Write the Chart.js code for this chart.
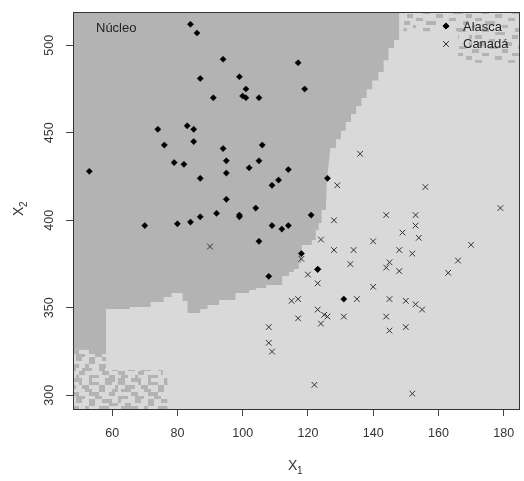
<!DOCTYPE html>
<html>
<head>
<meta charset="utf-8">
<script src="https://cdn.jsdelivr.net/npm/chart.js@4.4.1/dist/chart.umd.min.js"></script>
<style>
  html, body { margin: 0; padding: 0; background: #ffffff; }
  #grafica { display: block; }
</style>
</head>
<body>
<canvas id="grafica" width="524" height="481"></canvas>
<script>
// anillos de crecimiento: X1 = agua dulce, X2 = marino
const alascaX1 = [84, 86, 94, 87, 99, 101, 100, 101, 105, 91, 117, 119, 74, 83, 85, 76, 85, 106, 94, 95,
    79, 82, 105, 102, 95, 53, 87, 95, 114, 111, 109, 126, 104, 92, 99, 99, 87, 84, 80, 70,
    109, 112, 114, 121, 105, 118, 108, 123, 131, 123];
const alascaX2 = [512, 507, 492, 481, 482, 475, 471, 470, 470, 470, 490, 475, 452, 454, 452, 443, 445, 443, 441, 434,
    433, 432, 434, 430, 427, 428, 424, 412, 429, 423, 420, 424, 407, 404, 403, 402, 402, 399, 398, 397,
    397, 395, 397, 403, 388, 381, 368, 372, 355, 372];

const canadaX1 = [128, 144, 153, 153, 149, 154, 179, 140, 124, 128, 134, 148, 152, 170, 166, 163, 118, 133, 145, 144,
    148, 120, 123, 140, 115, 117, 135, 145, 150, 153, 155, 123, 125, 126, 124, 117, 131, 144, 150, 145,
    108, 108, 109, 122, 152, 90, 136, 129, 156];
const canadaX2 = [400, 403, 403, 397, 393, 390, 407, 388, 389, 383, 383, 383, 381, 386, 377, 370, 378, 375, 376, 373,
    371, 369, 364, 362, 354, 355, 355, 355, 354, 352, 349, 349, 346, 345, 341, 344, 345, 345, 339, 337,
    339, 330, 325, 306, 301, 385, 438, 420, 419];

// frontera de la región núcleo (Alasca), de izquierda a derecha
const nucleoX1 = [48, 58.1, 58.1, 65.4, 65.4, 71.8, 71.8, 75.8, 75.8, 78.2, 78.2, 81.6, 81.6, 83.1, 83.1, 87, 87, 89.2, 89.2, 92.8, 92.8, 97.8, 97.8,
    102, 102, 104.1, 104.1, 107.2, 107.2, 112.1, 112.1, 114.2, 114.2, 115.7, 115.7, 117.2, 117.2, 118.1, 118.1, 121.2, 121.2, 122.4, 122.4, 123.3, 123.3, 124.2, 124.2, 125.5,
    125.8, 126.9, 128.6, 128.6, 130.1, 130.1, 131.6, 131.6, 133.2, 133.2, 134.8, 134.8, 136.4, 136.4, 138, 138, 139.7, 139.7, 141.6, 141.6, 143.2, 143.2, 144.7, 144.7, 146.4, 146.4, 148, 148, 148.6];
const nucleoX2 = [323.6, 323.6, 349.3, 349.3, 350.5, 350.5, 353.3, 353.3, 356.2, 356.2, 358.5, 358.5, 353.9, 353.9, 347, 347, 349.3, 349.3, 351.6, 351.6, 354.5, 354.5, 358.5,
    358.5, 360.2, 360.2, 361.3, 361.3, 363, 363, 368.2, 368.2, 370.5, 370.5, 372.2, 372.2, 375.6, 375.6, 385.9, 385.9, 388.7, 388.7, 394.4, 394.4, 398.5, 398.5, 405.9, 405.9,
    423, 441.3, 441.3, 446.3, 446.3, 451.2, 451.2, 456.2, 456.2, 460.8, 460.8, 465.3, 465.3, 469.9, 469.9, 474.8, 474.8, 479.8, 479.8, 484.7, 484.7, 491.5, 491.5, 498.4, 498.4, 503, 503, 519];

// zonas de empate (abajo a la izquierda y arriba a la derecha)
const empateSoX1 = [48, 54.1, 54.1, 58.1, 58.1, 75.5, 75.5, 77, 77];
const empateSoX2 = [326, 326, 323.6, 323.6, 314.5, 314.5, 311, 311, 292.2];
const empateNeX1 = [149.2, 149.2, 166, 166, 184.7];
const empateNeX2 = [519, 508, 508, 490, 490];

const xTicks = [60, 80, 100, 120, 140, 160, 180];
const yTicks = [300, 350, 400, 450, 500];

const grisOscuro = '#b3b3b3';
const grisClaro = '#d9d9d9';

function puntos(xs, ys) {
    return xs.map(function (x, i) { return { x: x, y: ys[i] }; });
}

function crearPatron(filas) {
    const cols = filas[0].length, rows = filas.length;
    const c = document.createElement('canvas');
    c.width = Math.round(cols * 3.3);
    c.height = Math.round(rows * 3.5);
    const g = c.getContext('2d');
    g.fillStyle = grisClaro;
    g.fillRect(0, 0, c.width, c.height);
    g.fillStyle = grisOscuro;
    filas.forEach(function (fila, j) {
        for (let i = 0; i < fila.length; i++) {
            if (fila[i] === '1') {
                const x0 = Math.round(i * 3.3), x1 = Math.round((i + 1) * 3.3);
                const y0 = Math.round(j * 3.5), y1 = Math.round((j + 1) * 3.5);
                g.fillRect(x0, y0, x1 - x0, y1 - y0);
            }
        }
    });
    return g.createPattern(c, 'repeat');
}

const patronSo = crearPatron([
    '110011100100001110',
    '110000100111001100',
    '001110011000110001',
    '011100001100110011',
    '000011000111000110',
    '111001110001100000',
    '100001100110011100',
    '001100000110000111',
    '011111001000111000',
    '000110011100110011',
    '110000110000011000',
    '011001000111000110'
]);
const patronNe = crearPatron([
    '001100000011000001',
    '000001110000001100',
    '110000000110000000',
    '000110000000111000',
    '000000011000000011',
    '011000000001100000',
    '000011100000000110',
    '100000000110000000',
    '000110000000011100',
    '000000011100000000',
    '011000000000110001',
    '000001100000000000'
]);

const fondo = {
    id: 'fondo',
    beforeDatasetsDraw(chart) {
        const a = chart.chartArea;
        const ctx = chart.ctx;
        ctx.save();
        ctx.fillStyle = grisClaro;
        ctx.fillRect(a.left, a.top, a.right - a.left, a.bottom - a.top);
        ctx.restore();
    }
};

const textos = {
    id: 'textos',
    afterDraw(chart) {
        const ctx = chart.ctx;
        const a = chart.chartArea;
        const sx = chart.scales.x, sy = chart.scales.y;
        ctx.save();
        ctx.strokeStyle = '#333';
        ctx.lineWidth = 1;
        ctx.strokeRect(Math.round(a.left) + 0.5, Math.round(a.top) + 0.5,
            Math.round(a.right - a.left), Math.round(a.bottom - a.top));

        ctx.fillStyle = '#333';
        ctx.font = '12.5px "Liberation Sans", Arial, sans-serif';
        ctx.textAlign = 'center';
        ctx.textBaseline = 'middle';
        xTicks.forEach(function (v) {
            ctx.fillText(String(v), sx.getPixelForValue(v), 434);
        });
        yTicks.forEach(function (v) {
            ctx.save();
            ctx.translate(50, sy.getPixelForValue(v));
            ctx.rotate(-Math.PI / 2);
            ctx.fillText(String(v), 0, 0);
            ctx.restore();
        });

        // títulos de los ejes
        ctx.font = '14px "Liberation Sans", Arial, sans-serif';
        ctx.textAlign = 'left';
        ctx.textBaseline = 'alphabetic';
        ctx.fillText('X', 288, 470);
        ctx.font = '10px "Liberation Sans", Arial, sans-serif';
        ctx.fillText('1', 297, 474);

        ctx.save();
        ctx.translate(23, 216);
        ctx.rotate(-Math.PI / 2);
        ctx.font = '14px "Liberation Sans", Arial, sans-serif';
        ctx.fillText('X', 0, 0);
        ctx.font = '10px "Liberation Sans", Arial, sans-serif';
        ctx.fillText('2', 9, 4);
        ctx.restore();

        ctx.fillStyle = '#222';
        ctx.font = '13px "Liberation Sans", Arial, sans-serif';
        ctx.textBaseline = 'middle';
        ctx.fillText('Núcleo', 96, 28);

        // leyenda
        ctx.fillText('Alasca', 463, 27);
        ctx.fillText('Canadá', 463, 44);
        ctx.fillStyle = '#000';
        ctx.strokeStyle = '#000';
        Chart.helpers.drawPoint(ctx, { pointStyle: 'rectRot', radius: 3.1, borderWidth: 0.5 }, 446, 26);
        ctx.strokeStyle = '#333';
        Chart.helpers.drawPoint(ctx, { pointStyle: 'crossRot', radius: 4, borderWidth: 1 }, 446, 44);
        ctx.restore();
    }
};

new Chart(document.getElementById('grafica'), {
    type: 'scatter',
    data: {
        datasets: [
            {
                label: 'Alasca',
                data: puntos(alascaX1, alascaX2),
                pointStyle: 'rectRot',
                pointRadius: 3.1,
                backgroundColor: '#000',
                borderColor: '#000',
                borderWidth: 0.5,
                order: 0
            },
            {
                label: 'Canadá',
                data: puntos(canadaX1, canadaX2),
                pointStyle: 'crossRot',
                pointRadius: 4,
                borderColor: '#333',
                borderWidth: 1,
                order: 1
            },
            {
                type: 'line',
                label: 'empate SO',
                data: puntos(empateSoX1, empateSoX2),
                pointRadius: 0,
                borderWidth: 0,
                borderColor: 'rgba(0,0,0,0)',
                backgroundColor: patronSo,
                fill: 'start',
                tension: 0,
                order: 2
            },
            {
                type: 'line',
                label: 'empate NE',
                data: puntos(empateNeX1, empateNeX2),
                pointRadius: 0,
                borderWidth: 0,
                borderColor: 'rgba(0,0,0,0)',
                backgroundColor: patronNe,
                fill: 'end',
                tension: 0,
                order: 2
            },
            {
                type: 'line',
                label: 'Núcleo',
                data: puntos(nucleoX1, nucleoX2),
                pointRadius: 0,
                borderWidth: 0,
                borderColor: 'rgba(0,0,0,0)',
                backgroundColor: grisOscuro,
                fill: 'end',
                tension: 0,
                order: 3
            }
        ]
    },
    options: {
        responsive: false,
        animation: false,
        events: [],
        layout: { padding: { top: 12, right: 2.5, left: 0, bottom: 0 } },
        plugins: {
            legend: { display: false },
            tooltip: { enabled: false }
        },
        scales: {
            x: {
                type: 'linear',
                min: 48,
                max: 184.7,
                afterBuildTicks: function (s) { s.ticks = xTicks.map(function (v) { return { value: v }; }); },
                afterFit: function (s) { s.height = 72; },
                ticks: { display: false },
                border: { display: false },
                grid: { drawOnChartArea: false, drawTicks: true, tickLength: 7, color: '#444', lineWidth: 1 }
            },
            y: {
                type: 'linear',
                min: 292.2,
                max: 519,
                afterBuildTicks: function (s) { s.ticks = yTicks.map(function (v) { return { value: v }; }); },
                afterFit: function (s) { s.width = 73; },
                ticks: { display: false },
                border: { display: false },
                grid: { drawOnChartArea: false, drawTicks: true, tickLength: 7, color: '#444', lineWidth: 1 }
            }
        }
    },
    plugins: [fondo, textos]
});
</script>
</body>
</html>
